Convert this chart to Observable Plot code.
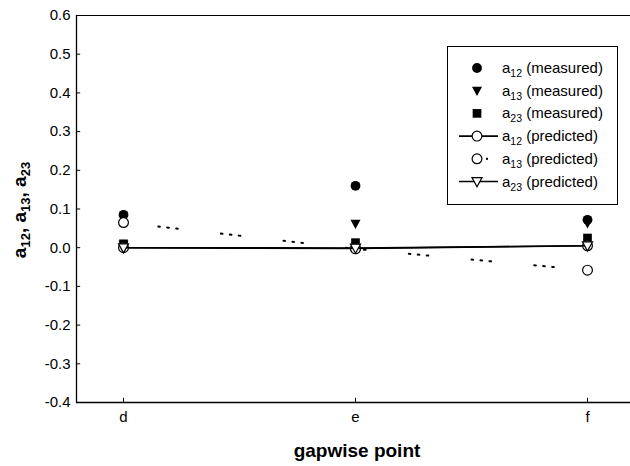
<!DOCTYPE html>
<html>
<head>
<meta charset="utf-8">
<script src="https://cdn.jsdelivr.net/npm/d3@7"></script>
<script src="https://cdn.jsdelivr.net/npm/@observablehq/plot@0.6"></script>
<style>
  html, body { margin: 0; padding: 0; background: #fff; }
  #chart svg { display: block; }
</style>
</head>
<body>
<div id="chart"></div>
<script>
// Gapwise points along the x axis
const points = ["d", "e", "f"];

// Measured coefficients
const a12Measured = [0.085, 0.160, 0.072];
const a13Measured = [0.008, 0.062, 0.063];
const a23Measured = [0.010, 0.013, 0.025];

// Predicted coefficients
const a12Predicted = [0.000, -0.002, 0.005];
const a13Predicted = [0.065, -0.003, -0.058];
const a23Predicted = [0.000, -0.001, 0.005];

const yTicks = [-0.4, -0.3, -0.2, -0.1, 0.0, 0.1, 0.2, 0.3, 0.4, 0.5, 0.6];

const font = "'Liberation Sans', Arial, Helvetica, sans-serif";
const W = 630, H = 466;
const xMin = -0.2026, xMax = 2.2026;

const rows = (vals) => points.map((p, i) => ({i, point: p, value: vals[i]}));

// Downward-pointing triangle symbol
const triangleDown = {
  draw(ctx, size) {
    const k = Math.sqrt(size);
    ctx.moveTo(-0.58 * k, -0.45 * k);
    ctx.lineTo(0.58 * k, -0.45 * k);
    ctx.lineTo(0, 0.6 * k);
    ctx.closePath();
  }
};

const R = 4.9;

const chart = Plot.plot({
  width: W,
  height: H,
  marginLeft: 76,
  marginRight: 0,
  marginTop: 15,
  marginBottom: 64,
  style: {fontFamily: font, fontSize: "15px", color: "#000", background: "#fff"},
  x: {domain: [xMin, xMax], range: [76, 634], axis: null},
  y: {domain: [-0.4, 0.6], range: [402, 15], axis: null},
  marks: [
    // frame: left, top, bottom
    Plot.ruleX([xMin], {y1: -0.4, y2: 0.6, stroke: "#000", strokeWidth: 1.3}),
    Plot.ruleY([0.6], {stroke: "#000", strokeWidth: 1.2}),
    Plot.ruleY([-0.4], {stroke: "#000", strokeWidth: 1.3}),
    // inside tick marks
    Plot.ruleY(yTicks, {x1: xMin, x2: xMin + 0.018, stroke: "#000"}),
    Plot.ruleX([0, 1, 2], {y1: -0.4, y2: -0.389, stroke: "#000"}),
    // tick labels
    Plot.axisY({ticks: yTicks, tickSize: 0, tickPadding: 6, fontSize: 15, label: null,
      tickFormat: d => d.toFixed(1)}),
    Plot.axisX({ticks: [0, 1, 2], tickSize: 0, tickPadding: 9, fontSize: 15, label: null,
      tickFormat: i => points[i]}),

    // measured series
    Plot.dot(rows(a12Measured), {x: "i", y: "value", r: R, symbol: "circle", fill: "#000", stroke: "none"}),
    Plot.dot(rows(a13Measured), {x: "i", y: "value", r: R, symbol: triangleDown, fill: "#000", stroke: "none"}),
    Plot.dot(rows(a23Measured), {x: "i", y: "value", r: R, symbol: "square", fill: "#000", stroke: "none"}),

    // predicted a12: solid line with open circles
    Plot.line(rows(a12Predicted), {x: "i", y: "value", stroke: "#000", strokeWidth: 1.6}),
    Plot.dot(rows(a12Predicted), {x: "i", y: "value", r: R, symbol: "circle", fill: "#fff", stroke: "#000", strokeWidth: 1.2}),

    // predicted a13: sparse dotted line with open circles
    Plot.line(rows(a13Predicted), {x: "i", y: "value", stroke: "#000", strokeWidth: 2,
      strokeDasharray: "1.6,7.4,1.6,7.4,1.6,43.4", strokeDashoffset: 28}),
    Plot.dot(rows(a13Predicted), {x: "i", y: "value", r: R, symbol: "circle", fill: "#fff", stroke: "#000", strokeWidth: 1.2}),

    // predicted a23: solid line with open down-triangles
    Plot.line(rows(a23Predicted), {x: "i", y: "value", stroke: "#000", strokeWidth: 1.6}),
    Plot.dot(rows(a23Predicted), {x: "i", y: "value", r: R, symbol: triangleDown, fill: "#fff", stroke: "#000", strokeWidth: 1.2})
  ]
});

document.getElementById("chart").appendChild(chart);

const svg = d3.select(chart);

// axis titles
const yTitle = svg.append("text")
  .attr("transform", "translate(26,210) rotate(-90)")
  .attr("text-anchor", "middle")
  .attr("font-family", font)
  .attr("font-weight", "bold")
  .attr("font-size", 19)
  .attr("fill", "#000");
[["a", "12", ", "], ["a", "13", ", "], ["a", "23", ""]].forEach(([base, sub, tail]) => {
  yTitle.append("tspan").text(base);
  yTitle.append("tspan").attr("font-size", 13).attr("dy", 4).text(sub);
  yTitle.append("tspan").attr("dy", -4).text(tail);
});

svg.append("text")
  .attr("x", 357).attr("y", 457)
  .attr("text-anchor", "middle")
  .attr("font-family", font)
  .attr("font-weight", "bold")
  .attr("font-size", 19)
  .attr("fill", "#000")
  .text("gapwise point");

// legend
const legendItems = [
  {sub: "12", kind: "measured", shape: d3.symbolCircle, filled: true, line: null},
  {sub: "13", kind: "measured", shape: triangleDown, filled: true, line: null},
  {sub: "23", kind: "measured", shape: d3.symbolSquare, filled: true, line: null},
  {sub: "12", kind: "predicted", shape: d3.symbolCircle, filled: false, line: "solid"},
  {sub: "13", kind: "predicted", shape: d3.symbolCircle, filled: false, line: "dot"},
  {sub: "23", kind: "predicted", shape: triangleDown, filled: false, line: "solid"}
];

const lg = svg.append("g");
lg.append("rect")
  .attr("x", 447.5).attr("y", 46.5).attr("width", 170).attr("height", 158)
  .attr("fill", "#fff").attr("stroke", "#000").attr("stroke-width", 1);

const symSize = Math.PI * R * R;
legendItems.forEach((d, k) => {
  const cy = 68 + k * 22.7;
  if (d.line === "solid") {
    lg.append("line").attr("x1", 459).attr("x2", 498).attr("y1", cy).attr("y2", cy)
      .attr("stroke", "#000").attr("stroke-width", 1.6);
  } else if (d.line === "dot") {
    lg.append("rect").attr("x", 486).attr("y", cy - 1).attr("width", 2).attr("height", 2).attr("fill", "#000");
  }
  lg.append("path")
    .attr("transform", `translate(477,${cy})`)
    .attr("d", d3.symbol(d.shape, symSize)())
    .attr("fill", d.filled ? "#000" : "#fff")
    .attr("stroke", d.filled ? "none" : "#000")
    .attr("stroke-width", 1.2);
  const t = lg.append("text")
    .attr("x", 502).attr("y", cy + 5)
    .attr("text-anchor", "start")
    .attr("font-family", font).attr("font-size", 15).attr("fill", "#000");
  t.append("tspan").text("a");
  t.append("tspan").attr("font-size", 10.5).attr("dy", 4).text(d.sub);
  t.append("tspan").attr("dy", -4).text(` (${d.kind})`);
});
</script>
</body>
</html>
